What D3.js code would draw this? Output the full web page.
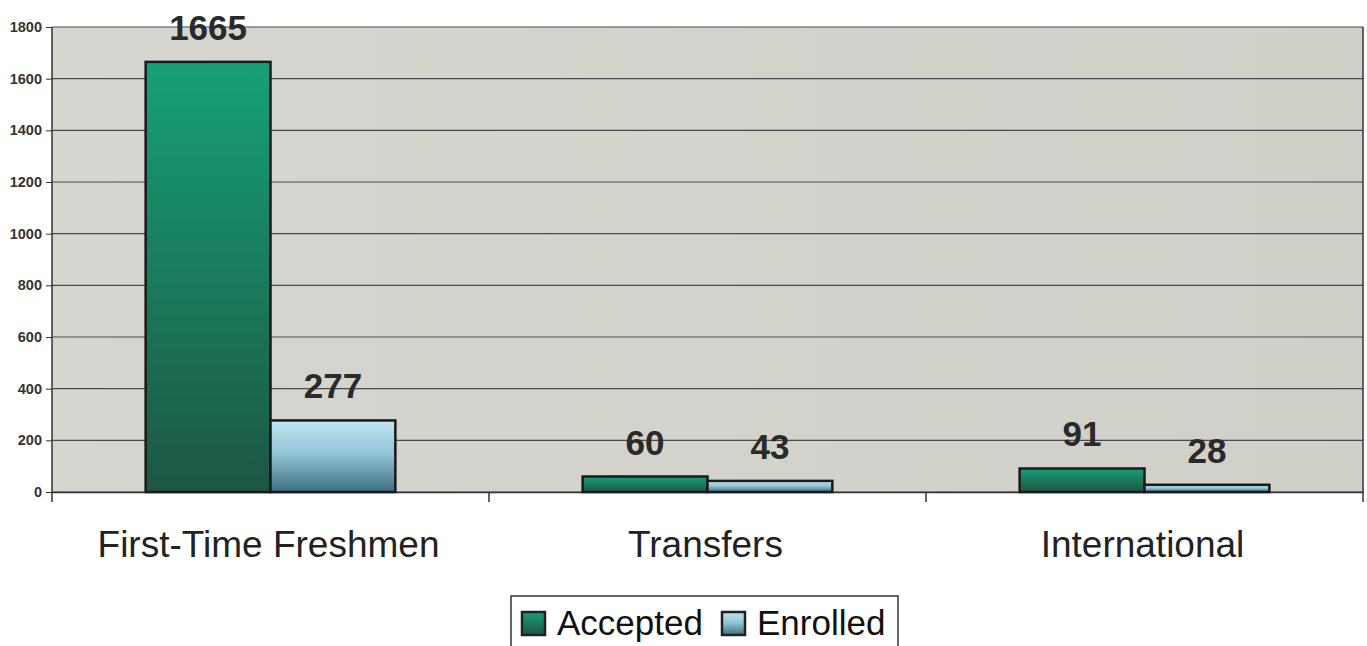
<!DOCTYPE html>
<html><head><meta charset="utf-8">
<script src="https://cdn.jsdelivr.net/npm/d3@7/dist/d3.min.js"></script>
<style>
body{margin:0;background:#fff;}
svg{display:block;}
</style></head>
<body>
<svg id="chart" width="1367" height="646"></svg>
<script>
const categories = ["First-Time Freshmen", "Transfers", "International"];
const seriesNames = ["Accepted", "Enrolled"];
const accepted = [1665, 60, 91];
const enrolled = [277, 43, 28];
const yTicks = [0, 200, 400, 600, 800, 1000, 1200, 1400, 1600, 1800];

const svg = d3.select("#chart");
const m = {left: 52, right: 1363, top: 27, bottom: 492};
const FONT = "Arial, Liberation Sans, sans-serif";

const defs = svg.append("defs");
const gA = defs.append("linearGradient").attr("id","gA").attr("x1",0).attr("y1",0).attr("x2",0).attr("y2",1);
gA.append("stop").attr("offset","0%").attr("stop-color","#16a077");
gA.append("stop").attr("offset","100%").attr("stop-color","#1d5644");
const gE = defs.append("linearGradient").attr("id","gE").attr("x1",0).attr("y1",0).attr("x2",0).attr("y2",1);
gE.append("stop").attr("offset","0%").attr("stop-color","#bfe5f1");
gE.append("stop").attr("offset","45%").attr("stop-color","#93c6d6");
gE.append("stop").attr("offset","100%").attr("stop-color","#3f6f82");
const gBg = defs.append("linearGradient").attr("id","gBg").attr("x1",0).attr("y1",0).attr("x2",1).attr("y2",0);
gBg.append("stop").attr("offset","0%").attr("stop-color","#d6d6d0");
gBg.append("stop").attr("offset","100%").attr("stop-color","#cfd0c8");

const x0 = d3.scaleBand().domain(categories).range([m.left, m.right]).paddingInner(0).paddingOuter(0);
const x1 = d3.scaleBand().domain(seriesNames).range([0, x0.bandwidth()]).paddingInner(0).paddingOuter(0.75);
const y = d3.scaleLinear().domain([0, 1800]).range([m.bottom, m.top]);

// plot background
svg.append("rect").attr("x", m.left).attr("y", m.top).attr("width", m.right - m.left).attr("height", m.bottom - m.top).attr("fill", "url(#gBg)");

// gridlines
svg.append("g").selectAll("line").data(yTicks).join("line")
  .attr("x1", m.left).attr("x2", m.right)
  .attr("y1", d => y(d)).attr("y2", d => y(d))
  .attr("stroke", "#4a4a4a").attr("stroke-width", 1.2);

// y axis
const yAxis = svg.append("g").attr("transform", `translate(${m.left},0)`)
  .call(d3.axisLeft(y).tickValues(yTicks).tickSize(6).tickPadding(4).tickFormat(d3.format("d")));
yAxis.select(".domain").attr("stroke", "#333").attr("stroke-width", 1.5).attr("d", `M-0,${m.top}V${m.bottom + 10}`);
yAxis.selectAll(".tick line").attr("stroke", "#333");
yAxis.selectAll("text").attr("font-family", FONT).attr("font-size", 14.5).attr("font-weight", "bold").attr("fill", "#333");

// x axis
const xAxis = svg.append("g").attr("transform", `translate(0,${m.bottom})`)
  .call(d3.axisBottom(x0).tickSize(0));
xAxis.select(".domain").attr("stroke", "#333").attr("stroke-width", 1.5);
xAxis.selectAll("text").attr("y", 65).attr("dy", "0").attr("dx", "-2")
  .attr("font-family", FONT).attr("font-size", 37).attr("fill", "#222");
// category separator ticks
svg.append("g").selectAll("line").data(categories).join("line")
  .attr("x1", d => x0(d) + x0.bandwidth()).attr("x2", d => x0(d) + x0.bandwidth())
  .attr("y1", d => d === categories[categories.length-1] ? m.top : m.bottom)
  .attr("y2", m.bottom + 10)
  .attr("stroke", "#333").attr("stroke-width", 1.5);

// bars
const data = categories.map((c, i) => ({cat: c, vals: [
  {key: "Accepted", v: accepted[i], fill: "url(#gA)"},
  {key: "Enrolled", v: enrolled[i], fill: "url(#gE)"}]}));

const groups = svg.append("g").selectAll("g").data(data).join("g")
  .attr("transform", d => `translate(${x0(d.cat)},0)`);
groups.selectAll("rect").data(d => d.vals).join("rect")
  .attr("x", d => x1(d.key)).attr("width", x1.bandwidth())
  .attr("y", d => y(d.v)).attr("height", d => y(0) - y(d.v))
  .attr("fill", d => d.fill).attr("stroke", "#1a1a1a").attr("stroke-width", 2.5);
groups.selectAll("text").data(d => d.vals).join("text")
  .attr("x", d => x1(d.key) + x1.bandwidth() / 2)
  .attr("y", d => y(d.v) - 22)
  .attr("text-anchor", "middle")
  .attr("font-family", FONT).attr("font-size", 35).attr("font-weight", "bold")
  .attr("fill", "#2a2a2a")
  .text(d => d.v);

// legend
const lg = svg.append("g").attr("transform", "translate(511,596)");
lg.append("rect").attr("x", 0).attr("y", 0).attr("width", 387).attr("height", 54)
  .attr("fill", "#fff").attr("stroke", "#333").attr("stroke-width", 1.5);
const items = [{name: seriesNames[0], fill: "url(#gA)", x: 11}, {name: seriesNames[1], fill: "url(#gE)", x: 211}];
items.forEach(it => {
  lg.append("rect").attr("x", it.x).attr("y", 16).attr("width", 23).attr("height", 23)
    .attr("fill", it.fill).attr("stroke", "#222").attr("stroke-width", 2.5);
  lg.append("text").attr("x", it.x + 35).attr("y", 39)
    .attr("font-family", FONT).attr("font-size", 35).attr("fill", "#111")
    .text(it.name);
});
</script>
</body></html>
